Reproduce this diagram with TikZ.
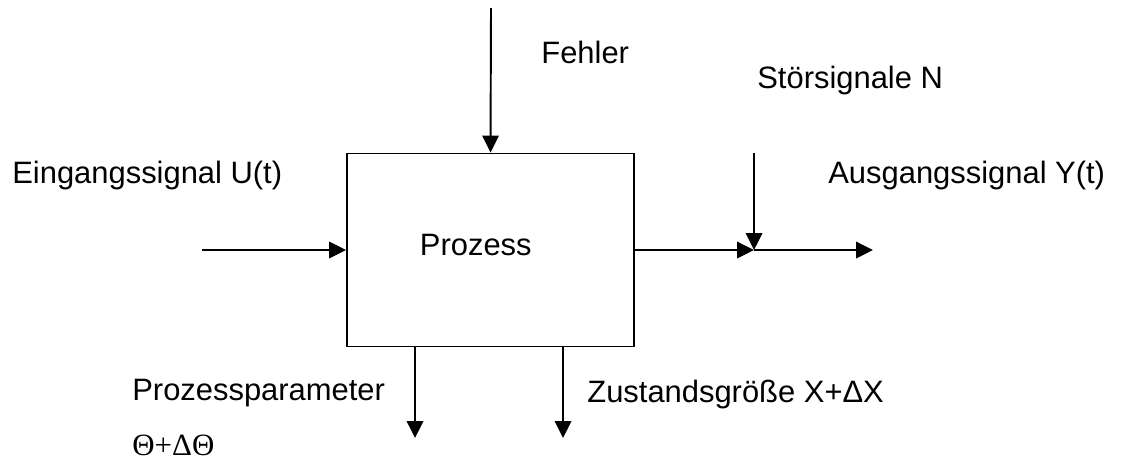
\documentclass[tikz,border=0pt]{standalone}
\usepackage{fontspec}
\setmainfont{Liberation Sans}
\newfontfamily\greekserif{Liberation Serif}
\usetikzlibrary{arrows.meta,positioning}
\tikzset{>={Triangle[length=0.34cm,width=0.33cm]}}
\tikzstyle{signal}=[->,line width=1.1pt]
\tikzstyle{block}=[draw,line width=1.1pt,minimum width=5.74cm,minimum height=3.86cm,inner sep=0]
\tikzstyle{lbl}=[inner sep=0,anchor=base west,font=\fontsize{17.6}{21}\selectfont]
\begin{document}
\begin{tikzpicture}[x=0.02cm,y=-0.02cm]
  \useasboundingbox (0,0) rectangle (1124,461);

  % BLOCK
  \node[block] (proc) at (490.5,250) {};
  \node[lbl,anchor=base east] (proclbl) at (532,255) {Prozess};

  % SIGNALS
  \coordinate (uin)   at (202,250);
  \coordinate (sum)   at (754,250);
  \coordinate (yout)  at (873,250);
  \coordinate (ftop)  at (491,8);
  \coordinate (ntop)  at (754,153);
  \coordinate (ppend) at (415,438);
  \coordinate (zgend) at (563,438);

  \draw[signal] (uin) -- (proc.west);
  \draw[signal] (proc.east) -- (sum);
  \draw[signal] (sum) -- (yout);
  \draw[signal] (ftop) -- (proc.north);
  \draw[signal] (ntop) -- (sum);
  \draw[signal] (proc.south -| ppend) -- (ppend);
  \draw[signal] (proc.south -| zgend) -- (zgend);

  % LABELS
  \node[lbl] (fehler) at (541,63)  {Fehler};
  \node[lbl] (stoer)  at (757,88)  {Störsignale N};
  \node[lbl] (ein)    at (12,183)  {Eingangssignal U(t)};
  \node[lbl] (aus)    at (828,183) {Ausgangssignal Y(t)};
  \node[lbl] (ppar)   at (132,400) {Prozessparameter};
  \node[lbl] (theta)  at (132,455) {\greekserif Θ+ΔΘ};
  \node[lbl] (zust)   at (587,402) {Zustandsgröße X+ΔX};

\end{tikzpicture}
\end{document}
